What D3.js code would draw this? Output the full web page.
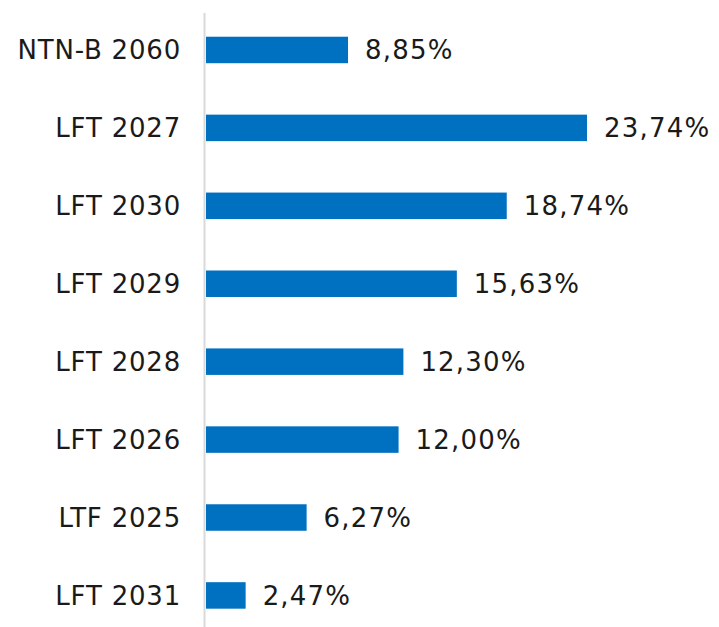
<!DOCTYPE html>
<html>
<head>
<meta charset="utf-8">
<script src="https://cdn.jsdelivr.net/npm/d3@7"></script>
<style>
  html, body { margin: 0; padding: 0; background: #ffffff; }
  svg { display: block; }
  text { font-family: "DejaVu Sans", "Noto Sans", sans-serif; fill: #1a1a1a; }
</style>
</head>
<body>
<svg id="chart" width="719" height="627"></svg>
<script>
// Titles and their share of the portfolio (%)
const categories = ["NTN-B 2060", "LFT 2027", "LFT 2030", "LFT 2029", "LFT 2028", "LFT 2026", "LTF 2025", "LFT 2031"];
const shares = [8.85, 23.74, 18.74, 15.63, 12.30, 12.00, 6.27, 2.47];

const data = categories.map((c, i) => ({ name: c, value: shares[i] }));

const svg = d3.select("#chart");

const x = d3.scaleLinear().domain([0, 25]).range([206, 607.2]);
const y = d3.scaleBand()
  .domain(categories)
  .range([11, 634.4])
  .paddingInner(0.66)
  .paddingOuter(0.33);

const fmt = v => v.toFixed(2).replace(".", ",") + "%";

// Category axis line
svg.append("line")
  .attr("x1", 204.5).attr("x2", 204.5)
  .attr("y1", 13).attr("y2", 627)
  .attr("stroke", "#d9d9d9")
  .attr("stroke-width", 2);

// Bars
svg.selectAll("rect.bar")
  .data(data)
  .join("rect")
  .attr("class", "bar")
  .attr("x", x(0))
  .attr("y", d => y(d.name))
  .attr("width", d => x(d.value) - x(0))
  .attr("height", y.bandwidth())
  .attr("fill", "#0070c0");

// Category labels
svg.selectAll("text.cat")
  .data(data)
  .join("text")
  .attr("class", "cat")
  .attr("x", 181)
  .attr("y", d => y(d.name) + y.bandwidth() / 2)
  .attr("dy", "0.36em")
  .attr("text-anchor", "end")
  .attr("font-size", 26)
  .attr("letter-spacing", 0.8)
  .text(d => d.name);

// Value labels
svg.selectAll("text.val")
  .data(data)
  .join("text")
  .attr("class", "val")
  .attr("x", d => x(d.value) + 17)
  .attr("y", d => y(d.name) + y.bandwidth() / 2)
  .attr("dy", "0.36em")
  .attr("font-size", 26)
  .attr("letter-spacing", 1.2)
  .text(d => fmt(d.value));
</script>
</body>
</html>
